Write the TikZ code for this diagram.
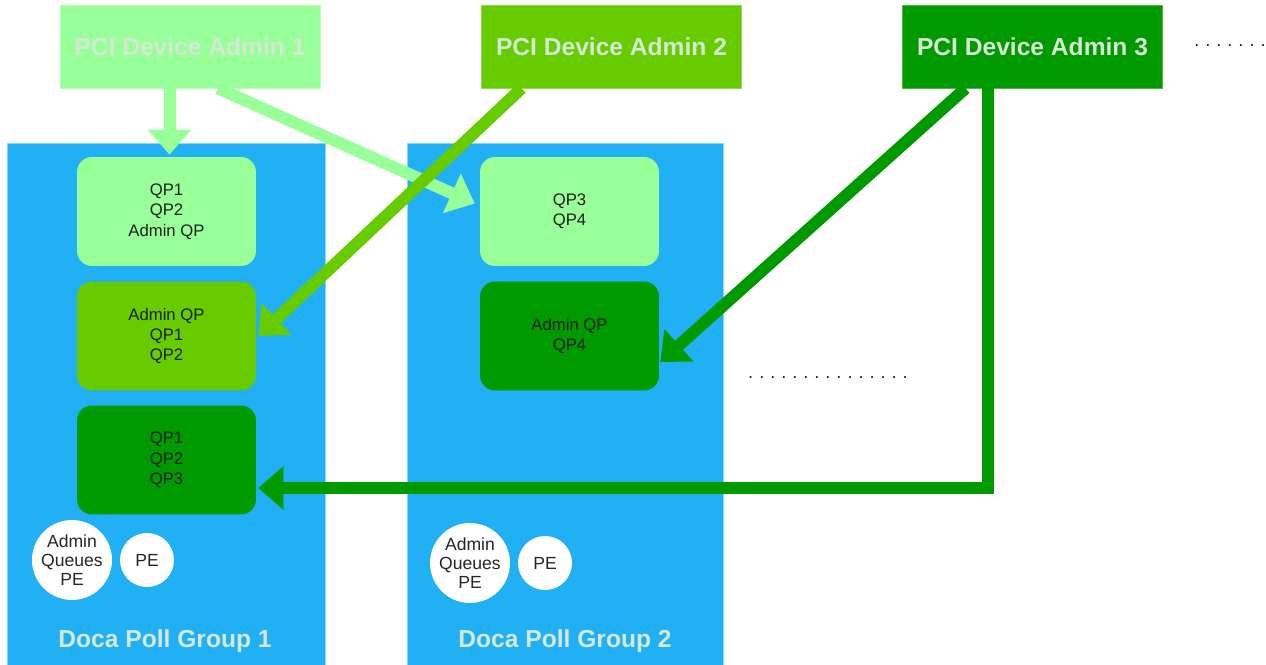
\documentclass[tikz,border=0pt]{standalone}
\usepackage{fontspec}
\setmainfont{Liberation Sans}
\newfontfamily\dotfont[LetterSpace=32]{Liberation Sans}
\usetikzlibrary{arrows.meta,calc}
\definecolor{admlight}{HTML}{99FF99}
\definecolor{admmid}{HTML}{66CC00}
\definecolor{admdark}{HTML}{009900}
\definecolor{pollblue}{HTML}{22B0F5}
\definecolor{paletxt}{HTML}{D5E8D4}
\tikzset{
  adminbox/.style={fill=#1,draw=#1!70!white,minimum width=5.2cm,minimum height=1.66cm,
    text=paletxt,font=\fontsize{14}{16}\selectfont\bfseries},
  pollbox/.style={fill=pollblue,draw=pollblue!55!white,minimum width=6.36cm,minimum height=10.44cm},
  grouptitle/.style={text=paletxt,font=\fontsize{14}{16}\selectfont\bfseries},
  qpbox/.style={fill=#1,rounded corners=0.3cm,minimum width=3.58cm,minimum height=2.18cm,
    align=center,text=black!88,font=\fontsize{9.5}{11.6}\selectfont},
  pecircle/.style={circle,fill=white,inner sep=0pt,minimum size=#1,align=center,
    text=black!85,font=\fontsize{10}{11}\selectfont},
  moredots/.style={text=black!85,font=\dotfont\fontsize{10.5}{12}\selectfont},
  feed/.style={#1,line width=0.24cm,-{Triangle[length=0.5cm,width=0.84cm]}},
}
\begin{document}
\begin{tikzpicture}[x=0.02cm,y=-0.02cm]
\useasboundingbox (0,0) rectangle (1266,665);
% poll groups
\node[pollbox] (grp1) at (166,404) {};
\node[pollbox,minimum width=6.32cm] (grp2) at (565,404) {};
\node[grouptitle] (grp1lbl) at (165,641) {Doca Poll Group 1};
\node[grouptitle] (grp2lbl) at (565,641) {Doca Poll Group 2};
% admins
\node[adminbox=admlight] (adm1) at (190,46.5) {PCI Device Admin 1};
\node[adminbox=admmid] (adm2) at (611.5,46.5) {PCI Device Admin 2};
\node[adminbox=admdark] (adm3) at (1032.5,46.5) {PCI Device Admin 3};
\node[moredots] (more1) at (1230,46) {.......};
% queue pairs
\node[qpbox=admlight] (qp11) at (166.5,211.5) {QP1\\QP2\\Admin QP};
\node[qpbox=admmid] (qp12) at (166.5,336) {Admin QP\\QP1\\QP2};
\node[qpbox=admdark] (qp13) at (166.5,460) {QP1\\QP2\\QP3};
\node[qpbox=admlight] (qp21) at (569.5,211.5) {QP3\\QP4};
\node[qpbox=admdark] (qp22) at (569.5,336) {Admin QP\\QP4};
\node[moredots] (more2) at (828,378) {...............};
% progress engines
\node[pecircle=1.48cm] (aq1) at (72,560) {Admin\\Queues\\PE};
\node[pecircle=1.08cm] (pe1) at (147,560) {PE};
\node[pecircle=1.48cm] (aq2) at (470,563) {Admin\\Queues\\PE};
\node[pecircle=1.08cm] (pe2) at (545,563) {PE};
% arrows
\draw[feed=admlight] ($(qp11.north |- adm1.south)+(3,0)$) -- ($(qp11.north)+(3,-2)$);
\draw[feed=admlight] ($(adm1.south)+(28,0)$) -- ($(qp21.west)+(-5,-8)$);
\draw[feed=admmid] ($(adm2.south)+(-90,0)$) -- ($(qp12.east)+(2,0)$);
\draw[feed=admdark] ($(adm3.south)+(-67,0)$) -- ($(qp22.east)+(1,26)$);
\draw[feed=admdark] ($(adm3.south)+(-45,0)$) |- ($(qp13.east)+(2,28)$);
\end{tikzpicture}
\end{document}
